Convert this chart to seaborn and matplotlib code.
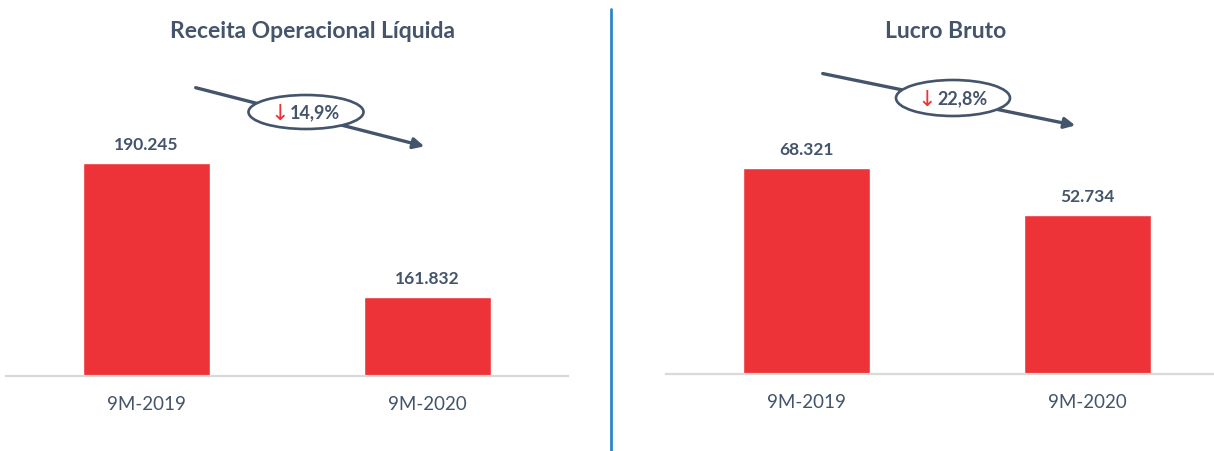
import matplotlib
matplotlib.use("Agg")
import matplotlib.pyplot as plt
from matplotlib.patches import Ellipse, FancyArrowPatch
from matplotlib.lines import Line2D
import pandas as pd
import seaborn as sns

# dados
periods = ["9M-2019", "9M-2020"]
receita = [190245, 161832]
lucro = [68321, 52734]
titles = ["Receita Operacional Líquida", "Lucro Bruto"]
variacoes = ["14,9%", "22,8%"]

RED = "#EE3338"
SLATE = "#44546A"
GRID = "#D9D9D9"
BLUE = "#2E86C8"

sns.set_theme(style="white")
plt.rcParams["font.family"] = ["Lato", "DejaVu Sans"]

W, H = 1214, 452
fig = plt.figure(figsize=(W / 100, H / 100), dpi=100)


def px(x, y):
    # pixel (a partir do topo) -> fração da figura
    return x / W, 1 - y / H


def bar_panel(ax, values, ylim, xlim):
    df = pd.DataFrame({"periodo": periods, "valor": values})
    sns.barplot(data=df, x="periodo", y="valor", color=RED, width=0.455,
                saturation=1, ax=ax)
    ax.set_ylim(*ylim)
    ax.set_xlim(*xlim)
    ax.set_xlabel("")
    ax.set_ylabel("")
    ax.set_yticks([])
    for s in ["top", "left", "right"]:
        ax.spines[s].set_visible(False)
    ax.spines["bottom"].set_color(GRID)
    ax.spines["bottom"].set_linewidth(1.6)
    ax.tick_params(axis="x", length=0, pad=14, labelsize=13.5, labelcolor=SLATE)
    labels = [f"{v:,}".replace(",", ".") for v in values]
    ax.bar_label(ax.containers[0], labels=labels, padding=8, fontsize=12.5,
                 fontweight="bold", color=SLATE)


ax1 = fig.add_axes([6 / W, 75 / H, 562 / W, 317 / H])
bar_panel(ax1, receita, (145144, 212360), (-0.5, 1.5))

ax2 = fig.add_axes([666 / W, 77 / H, 547 / W, 315 / H])
bar_panel(ax2, lucro, (0, 104374), (-0.5, 1.447))

# títulos
fig.text(*px(313, 31), titles[0], ha="center", va="center", fontsize=16.5,
         fontweight="bold", color=SLATE)
fig.text(*px(946, 31), titles[1], ha="center", va="center", fontsize=16.5,
         fontweight="bold", color=SLATE)

# setas de variação com elipse
arrows = [
    ((193, 88), (427, 148), (306, 113), (115, 34), variacoes[0]),
    ((820, 74), (1078, 127), (953, 99), (114, 36), variacoes[1]),
]
for start, end, center, size, label in arrows:
    fig.add_artist(FancyArrowPatch(px(*start), px(*end), transform=fig.transFigure,
                                   arrowstyle="-|>", mutation_scale=16, lw=2.4,
                                   color=SLATE, zorder=2))
    fig.add_artist(Ellipse(px(*center), size[0] / W, size[1] / H,
                           transform=fig.transFigure, fc="white", ec=SLATE,
                           lw=1.9, zorder=3))
    cx, cy = center
    fig.text(*px(cx - 17, cy + 1), "↓", ha="right", va="center", fontsize=16,
             color=RED, zorder=4, family=["DejaVu Sans"])
    fig.text(*px(cx - 16, cy), label, ha="left", va="center", fontsize=13,
             fontweight="bold", color=SLATE, zorder=4)

# divisor
fig.add_artist(Line2D([611 / W, 611 / W], [1 - 10 / H, 0], color=BLUE, lw=2))

fig.savefig("out.png", dpi=100)
